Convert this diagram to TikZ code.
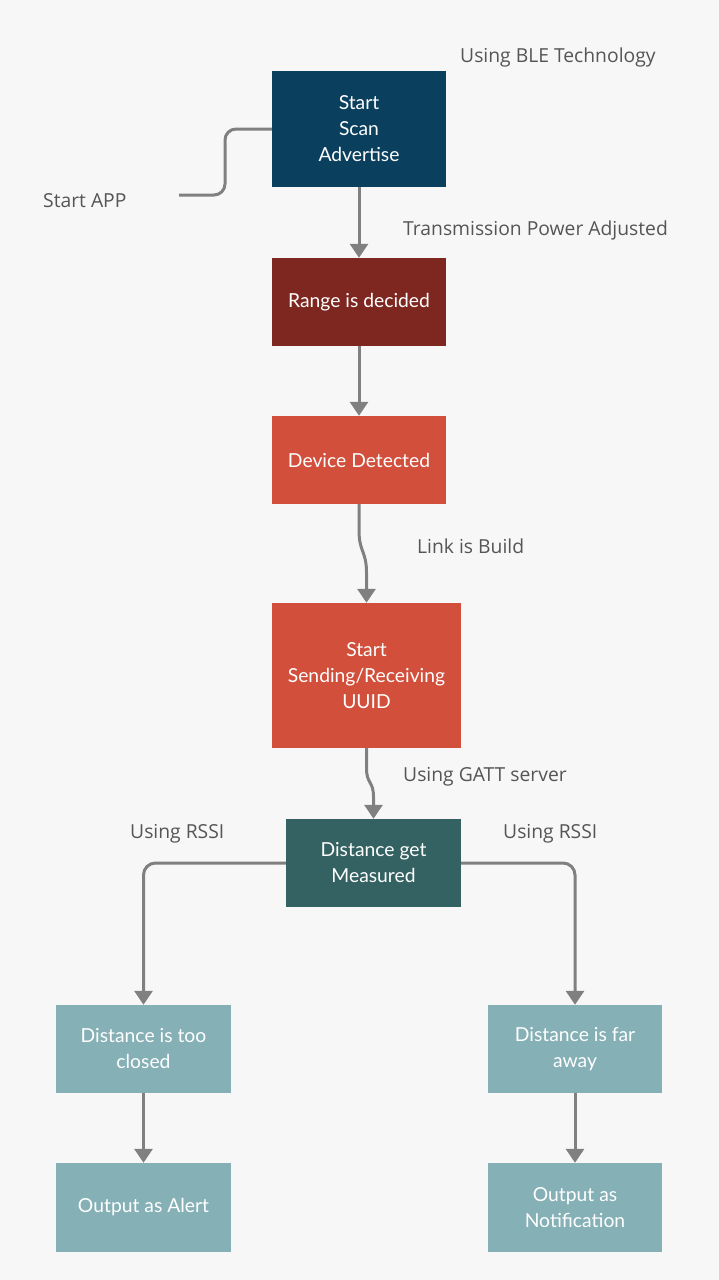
\documentclass[tikz,border=0pt]{standalone}
\usepackage{fontspec}
\setmainfont{Open Sans}
\newfontfamily\boxfont{Lato}
\usetikzlibrary{arrows.meta,calc}
\definecolor{bg}{HTML}{F7F7F7}
\definecolor{navy}{HTML}{0B3F5E}
\definecolor{maroon}{HTML}{7E2720}
\definecolor{coral}{HTML}{D14F3B}
\definecolor{teal}{HTML}{346161}
\definecolor{sea}{HTML}{85B0B6}
\definecolor{conncol}{HTML}{808080}
\definecolor{labcol}{HTML}{555555}
\tikzset{
  box/.style={inner sep=0pt, text=white, align=center,
    font=\boxfont\fontsize{19.3}{26}\selectfont},
  conn/.style={draw=conncol, line width=3pt,
    -{Triangle[width=18pt,length=14pt]}},
  plainconn/.style={draw=conncol, line width=3pt},
  lab/.style={text=labcol, anchor=west, inner sep=0pt,
    font=\fontsize{19.3}{22}\selectfont}
}
\begin{document}
\begin{tikzpicture}[x=1pt,y=-1pt]
\fill[bg] (0,0) rectangle (719,1280);
\useasboundingbox (0,0) rectangle (719,1280);

\node[box, fill=navy, minimum width=174pt, minimum height=116pt] (b1) at (359,129) {Start\\Scan\\Advertise};
\node[box, fill=maroon, minimum width=174pt, minimum height=88pt] (b2) at (359,302) {Range is decided};
\node[box, fill=coral, minimum width=174pt, minimum height=88pt] (b3) at (359,460) {Device Detected};
\node[box, fill=coral, minimum width=189pt, minimum height=145pt] (b4) at (366.5,675.5) {Start\\Sending/Receiving\\UUID};
\node[box, fill=teal, minimum width=175pt, minimum height=88pt] (b5) at (373.5,863) {Distance get\\Measured};
\node[box, fill=sea, minimum width=175pt, minimum height=88pt] (b6) at (143.5,1049) {Distance is too\\closed};
\node[box, fill=sea, minimum width=174pt, minimum height=88pt] (b7) at (575,1049) {Distance is far\\away};
\node[box, fill=sea, minimum width=175pt, minimum height=89pt] (b8) at (143.5,1207.5) {Output as Alert};
\node[box, fill=sea, minimum width=174pt, minimum height=89pt] (b9) at (575,1207.5) {Output as\\Notification};

\node[lab] (l1) at (460,57) {Using BLE Technology};
\node[lab] (l2) at (43,201) {Start APP};
\node[lab] (l3) at (403,230) {Transmission Power Adjusted};
\node[lab] (l4) at (417,546) {Link is Build};
\node[lab] (l5) at (403,777) {Using GATT server};
\node[lab] (l6) at (130,834) {Using RSSI};
\node[lab] (l7) at (503,834) {Using RSSI};

\coordinate (s) at (179,195);
\draw[plainconn, rounded corners=11pt] (s) -- (225,195) -- (225,129) -- (b1.west);

\draw[conn] (b1.south) -- (b2.north);
\draw[conn] (b2.south) -- (b3.north);
\draw[conn] (b3.south) -- ++(0,26) .. controls +(0,22) and +(0,-22) .. ($(b4.north)+(0,-30)$) -- (b4.north);
\draw[conn] (b4.south) -- ++(0,20) .. controls +(0,16) and +(0,-16) .. ($(b5.north)+(0,-22)$) -- (b5.north);
\draw[conn, rounded corners=12pt] (b5.west) -| (b6.north);
\draw[conn, rounded corners=12pt] (b5.east) -| (b7.north);
\draw[conn] (b6.south) -- (b8.north);
\draw[conn] (b7.south) -- (b9.north);
\end{tikzpicture}
\end{document}
